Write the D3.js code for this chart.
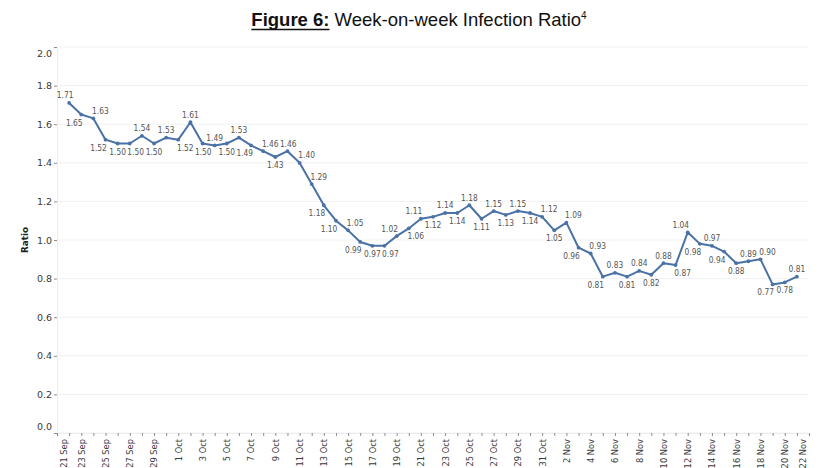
<!DOCTYPE html>
<html>
<head>
<meta charset="utf-8">
<script src="https://cdn.jsdelivr.net/npm/d3@7"></script>
<style>
body { margin: 0; background: #fff; }
svg { display: block; }
.axis text { font-family: "DejaVu Sans", sans-serif; font-size: 9.5px; fill: #3a3a3a; }
.xaxis text { font-size: 8.3px; }
.axis .tick line { stroke: #8c8c8c; }
.axis .domain { stroke: #ededed; }
.grid line { stroke: #f1f1f1; stroke-width: 1; }
.pointlabel { font-family: "DejaVu Sans Condensed", "DejaVu Sans", sans-serif; font-stretch: condensed; font-size: 8.3px; fill: #555; }
</style>
</head>
<body>
<div id="chart"></div>
<script>
// daily values, 22 Sep - 21 Nov
var dates = ["22 Sep","23 Sep","24 Sep","25 Sep","26 Sep","27 Sep","28 Sep","29 Sep","30 Sep",
    "1 Oct","2 Oct","3 Oct","4 Oct","5 Oct","6 Oct","7 Oct","8 Oct","9 Oct","10 Oct",
    "11 Oct","12 Oct","13 Oct","14 Oct","15 Oct","16 Oct","17 Oct","18 Oct","19 Oct","20 Oct",
    "21 Oct","22 Oct","23 Oct","24 Oct","25 Oct","26 Oct","27 Oct","28 Oct","29 Oct","30 Oct","31 Oct",
    "1 Nov","2 Nov","3 Nov","4 Nov","5 Nov","6 Nov","7 Nov","8 Nov","9 Nov","10 Nov",
    "11 Nov","12 Nov","13 Nov","14 Nov","15 Nov","16 Nov","17 Nov","18 Nov","19 Nov","20 Nov","21 Nov"];

var ratios = [1.71,1.65,1.63,1.52,1.50,1.50,1.54,1.50,1.53,1.52,
    1.61,1.50,1.49,1.50,1.53,1.49,1.46,1.43,1.46,1.40,
    1.29,1.18,1.10,1.05,0.99,0.97,0.97,1.02,1.06,1.11,
    1.12,1.14,1.14,1.18,1.11,1.15,1.13,1.15,1.14,1.12,
    1.05,1.09,0.96,0.93,0.81,0.83,0.81,0.84,0.82,0.88,
    0.87,1.04,0.98,0.97,0.94,0.88,0.89,0.90,0.77,0.78,
    0.81];

// axis runs one day either side of the data
var axisDays = ["21 Sep"].concat(dates, ["22 Nov"]);

var dateLabels = ["21 Sep","23 Sep","25 Sep","27 Sep","29 Sep","1 Oct","3 Oct","5 Oct","7 Oct",
    "9 Oct","11 Oct","13 Oct","15 Oct","17 Oct","19 Oct","21 Oct","23 Oct","25 Oct","27 Oct",
    "29 Oct","31 Oct","2 Nov","4 Nov","6 Nov","8 Nov","10 Nov","12 Nov","14 Nov","16 Nov",
    "18 Nov","20 Nov","22 Nov"];

var yTicks = [0.0,0.2,0.4,0.6,0.8,1.0,1.2,1.4,1.6,1.8,2.0];

// days whose value label sits on the other side from the default rule
var flippedLabels = ["4 Oct", "30 Oct", "15 Nov"];

var width = 830, height = 468;
var plotLeft = 57, plotRight = 809, plotTop = 47, plotBottom = 433;
var lineColor = "#4a72a6";

var svg = d3.select("#chart").append("svg")
    .attr("width", width)
    .attr("height", height);

var x = d3.scalePoint().domain(axisDays).range([plotLeft, plotRight]);
var y = d3.scaleLinear().domain([0, 2]).range([plotBottom, plotTop]);

//title
var title = svg.append("text")
    .attr("x", 419)
    .attr("y", 26)
    .attr("text-anchor", "middle")
    .style("font-family", "'Liberation Sans', Arial, sans-serif")
    .style("font-size", "18.5px")
    .style("fill", "#111");
title.append("tspan").style("font-weight", "bold").text("Figure 6:");
title.append("tspan").text(" Week-on-week Infection Ratio");
title.append("tspan").attr("dy", -7).style("font-size", "10px").text("4");

var tnode = title.node();
var ux0 = tnode.getStartPositionOfChar(0).x;
var ux1 = tnode.getEndPositionOfChar(8).x;
svg.append("line")
    .attr("x1", ux0).attr("x2", ux1)
    .attr("y1", 29.5).attr("y2", 29.5)
    .style("stroke", "#111")
    .style("stroke-width", 1.6);

//gridlines
svg.append("g").attr("class", "grid")
    .selectAll("line")
    .data(yTicks)
    .enter()
    .append("line")
    .attr("x1", plotLeft)
    .attr("x2", plotRight - 1)
    .attr("y1", function(d){ return y(d); })
    .attr("y2", function(d){ return y(d); });

//y axis
var yAxis = svg.append("g")
    .attr("class", "axis")
    .attr("transform", "translate(" + plotLeft + ",0)")
    .call(d3.axisLeft(y).tickValues(yTicks).tickSize(3).tickPadding(2).tickFormat(d3.format(".1f")));

yAxis.selectAll(".tick text")
    .attr("dy", function(d){
        if (d == 2) return "0.95em";
        if (d == 0) return "-0.35em";
        return "0.32em";
    });

svg.append("text")
    .attr("transform", "translate(28," + y(1) + ") rotate(-90)")
    .attr("text-anchor", "middle")
    .style("font-family", "'DejaVu Sans', sans-serif")
    .style("font-weight", "bold")
    .style("font-size", "8.8px")
    .style("fill", "#222")
    .text("Ratio");

//x axis
var xAxis = svg.append("g")
    .attr("class", "axis xaxis")
    .attr("transform", "translate(0," + plotBottom + ")")
    .call(d3.axisBottom(x).tickValues(axisDays).tickSize(3)
        .tickFormat(function(d){ return dateLabels.indexOf(d) >= 0 ? d : ""; }));

xAxis.selectAll(".tick text")
    .attr("text-anchor", "end")
    .attr("x", -6)
    .attr("y", 0)
    .attr("dy", "0.35em")
    .attr("transform", function(d){
        var shift = 0;
        if (d == axisDays[0]) shift = 7;
        if (d == axisDays[axisDays.length - 1]) shift = -6;
        return "translate(" + shift + ",0) rotate(-90)";
    });

//line and points
var line = d3.line()
    .x(function(d, i){ return x(dates[i]); })
    .y(function(d){ return y(d); });

svg.append("path")
    .datum(ratios)
    .attr("d", line)
    .style("fill", "none")
    .style("stroke", lineColor)
    .style("stroke-width", 2)
    .style("stroke-linejoin", "round");

svg.selectAll(".dot")
    .data(ratios)
    .enter()
    .append("circle")
    .attr("class", "dot")
    .attr("cx", function(d, i){ return x(dates[i]); })
    .attr("cy", function(d){ return y(d); })
    .attr("r", 1.9)
    .style("fill", lineColor);

//labels go above a point that sits high relative to its neighbours, below otherwise,
//and lean away from the line where it is steep
var labels = ratios.map(function(v, i){
    var n = ratios.length;
    var above = (i == 0 || i == n - 1) ? true
        : v >= (ratios[i - 1] + ratios[i + 1]) / 2 - 0.0001;
    if (flippedLabels.indexOf(dates[i]) >= 0) above = !above;
    var s = (i == 0 || i == n - 1) ? 0 : (ratios[i + 1] - ratios[i - 1]) / 2;
    var dx = Math.abs(s) >= 0.03 ? (s < 0 ? 7 : -7) : 0;
    if (!above) dx = -dx;
    if (i == 0) dx = -4;
    return {v: v, above: above, x: x(dates[i]) + dx, y: above ? y(v) - 4.5 : y(v) + 11};
});

//push a label right when it would run into the previous one on the same side
var labelW = 18;
labels.forEach(function(l, i){
    for (var j = i - 1; j >= Math.max(0, i - 3); j--) {
        var p = labels[j];
        if (p.above == l.above && Math.abs(p.y - l.y) < 8 && l.x - p.x < labelW) {
            l.x = p.x + labelW;
        }
    }
});

svg.selectAll(".pointlabel")
    .data(labels)
    .enter()
    .append("text")
    .attr("class", "pointlabel")
    .attr("text-anchor", "middle")
    .attr("x", function(d){ return d.x; })
    .attr("y", function(d){ return d.y; })
    .text(function(d){ return d3.format(".2f")(d.v); });
</script>
</body>
</html>
